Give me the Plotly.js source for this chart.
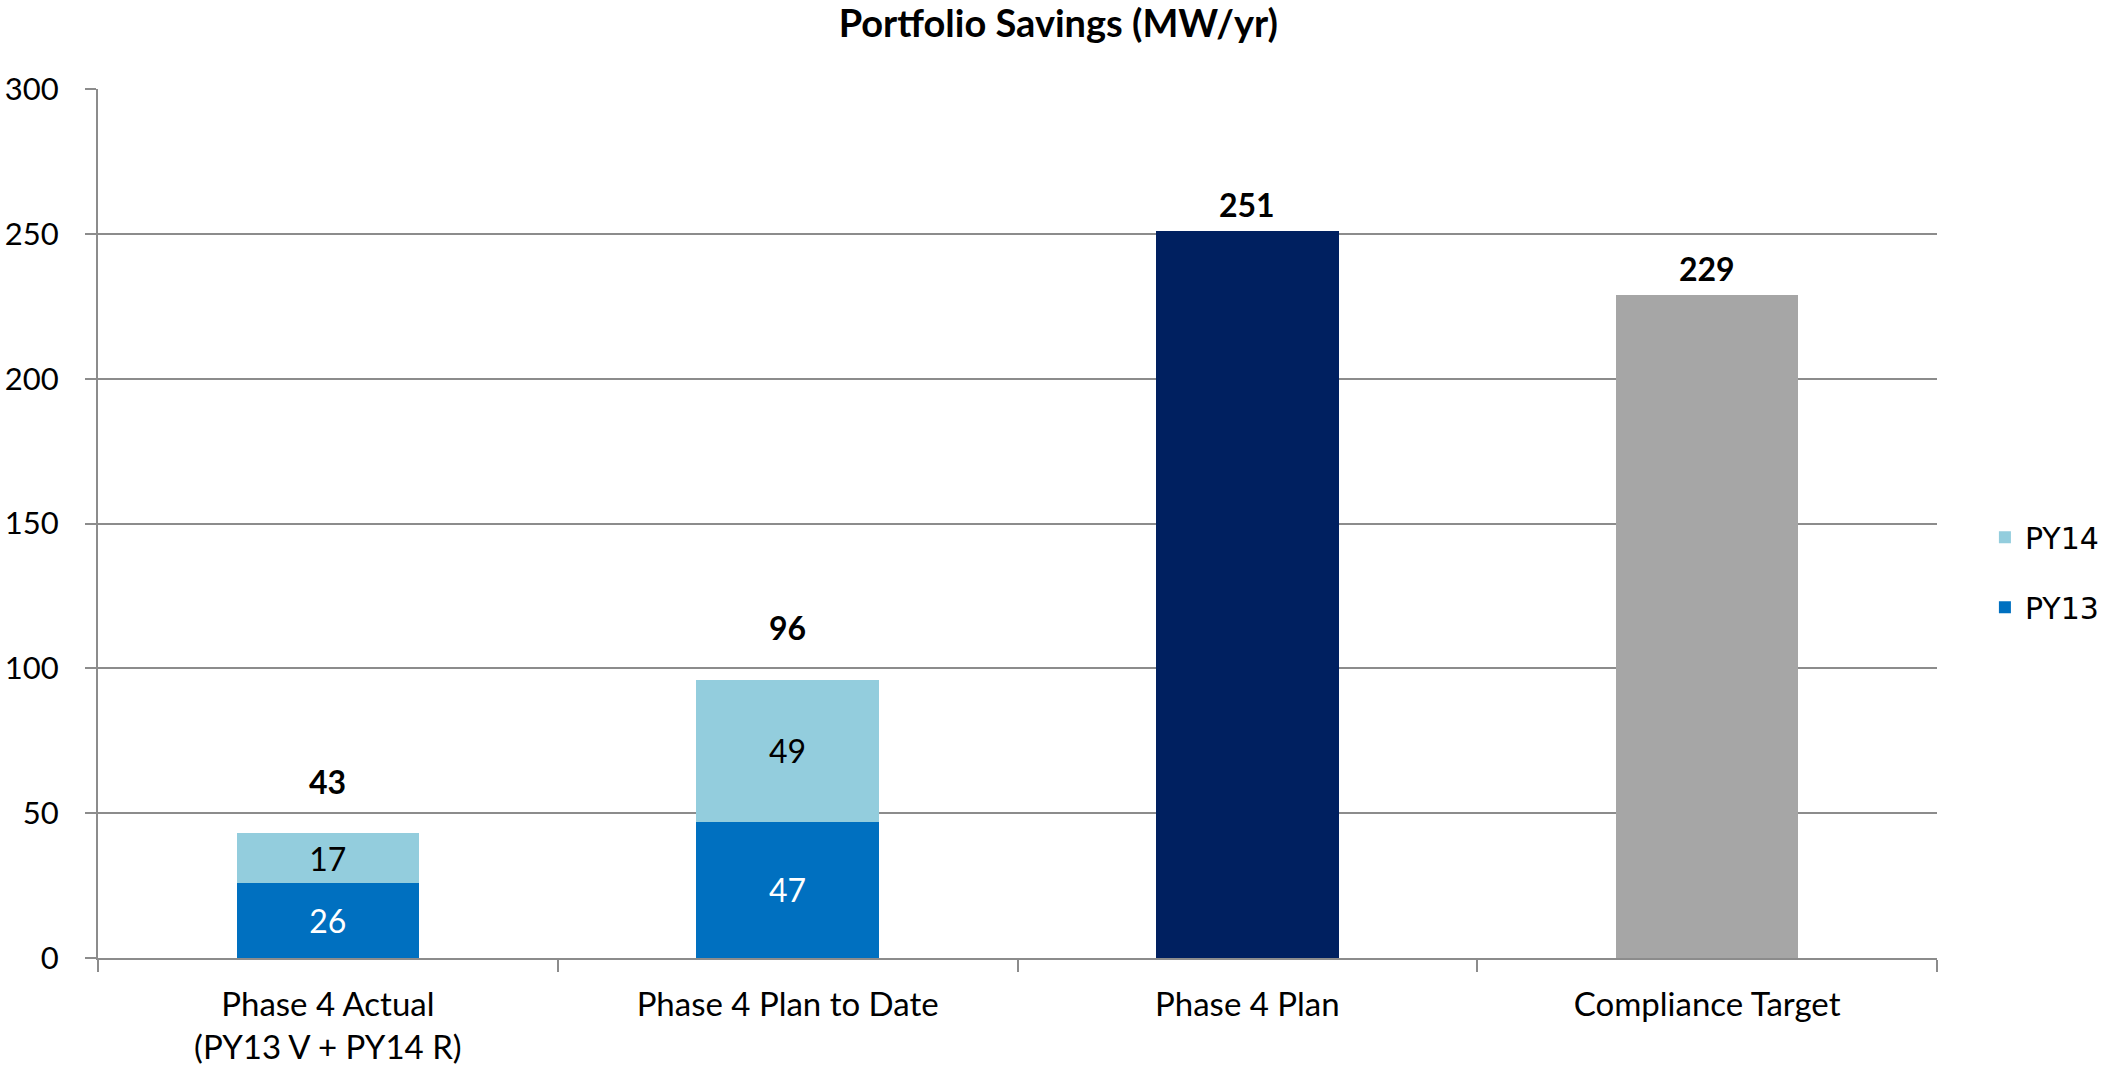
<!DOCTYPE html>
<html>
<head>
<meta charset="utf-8">
<script src="https://cdn.plot.ly/plotly-3.0.1.min.js"></script>
<style>
  html, body { margin: 0; padding: 0; background: #ffffff; }
  #chart { width: 2104px; height: 1070px; }
</style>
</head>
<body>
<div id="chart"></div>
<script>
// ---- Data ----
const categories = ['Phase 4 Actual<br>(PY13 V + PY14 R)', 'Phase 4 Plan to Date', 'Phase 4 Plan', 'Compliance Target'];
const py13 = [26, 47, null, null];
const py14 = [17, 49, null, null];
const phase4Plan = [null, null, 251, null];
const complianceTarget = [null, null, null, 229];
const totals = [43, 96, 251, 229];
const yTicks = [0, 50, 100, 150, 200, 250, 300];

// ---- Styles ----
const FONT = 'Lato, "Open Sans", sans-serif';
const GRID = '#8c8c8c';

const traces = [
  {
    type: 'bar', name: 'PY13', x: categories, y: py13,
    marker: { color: '#0070C0' },
    text: py13.map(v => v == null ? '' : String(v)),
    textposition: 'inside', insidetextanchor: 'middle',
    textfont: { family: FONT, size: 32, color: '#ffffff' },
    legendgroup: 'g13', legendrank: 2, hoverinfo: 'x+y+name'
  },
  {
    type: 'bar', name: 'PY14', x: categories, y: py14,
    marker: { color: '#93CDDD' },
    text: py14.map(v => v == null ? '' : String(v)),
    textposition: 'inside', insidetextanchor: 'middle',
    textfont: { family: FONT, size: 32, color: '#000000' },
    legendgroup: 'g14', legendrank: 1, hoverinfo: 'x+y+name'
  },
  {
    type: 'bar', name: 'Phase 4 Plan', x: categories, y: phase4Plan,
    marker: { color: '#002060' }, showlegend: false
  },
  {
    type: 'bar', name: 'Compliance Target', x: categories, y: complianceTarget,
    marker: { color: '#A6A6A6' }, showlegend: false
  }
];

const annotations = categories.map((c, i) => ({
  x: c, y: totals[i], xref: 'x', yref: 'y',
  text: '<b>' + totals[i] + '</b>',
  showarrow: false, yanchor: 'middle',
  yshift: py14[i] != null ? 52 : 26,
  font: { family: FONT, size: 32, color: '#000000' }
}));

const layout = {
  width: 2104, height: 1070,
  paper_bgcolor: '#ffffff', plot_bgcolor: '#ffffff',
  margin: { l: 98, r: 167, t: 89, b: 112, pad: 0, autoexpand: false },
  barmode: 'stack', bargap: 0.603,
  title: {
    text: '<b>Portfolio Savings (MW/yr)</b>',
    font: { family: FONT, size: 38, color: '#000000' },
    x: 0.503, xref: 'container', xanchor: 'center',
    y: 0.978, yref: 'container', yanchor: 'middle'
  },
  xaxis: {
    type: 'category',
    showgrid: false, zeroline: false,
    showline: true, linecolor: GRID, linewidth: 2,
    ticks: 'outside', tickson: 'boundaries', ticklen: 12, tickcolor: GRID, tickwidth: 2,
    tickfont: { family: FONT, size: 33, color: '#000000' },
    ticklabelstandoff: 16
  },
  yaxis: {
    range: [0, 300], tickvals: yTicks, ticktext: yTicks.map(String),
    showgrid: true, gridcolor: GRID, gridwidth: 2,
    zeroline: false,
    showline: true, linecolor: GRID, linewidth: 2,
    ticks: 'outside', ticklen: 11, tickcolor: GRID, tickwidth: 2,
    tickfont: { family: FONT, size: 31, color: '#000000' },
    ticklabelstandoff: 20
  },
  legend: {
    x: 0.9434, xanchor: 'left', xref: 'container',
    y: 0.444, yanchor: 'middle',
    traceorder: 'grouped', tracegroupgap: 28, itemwidth: 30,
    font: { family: '"DejaVu Sans", sans-serif', size: 30, color: '#000000' },
    bgcolor: 'rgba(0,0,0,0)', borderwidth: 0
  },
  annotations: annotations,
  showlegend: true
};

Plotly.newPlot('chart', traces, layout, { displayModeBar: false, responsive: false });
</script>
</body>
</html>
